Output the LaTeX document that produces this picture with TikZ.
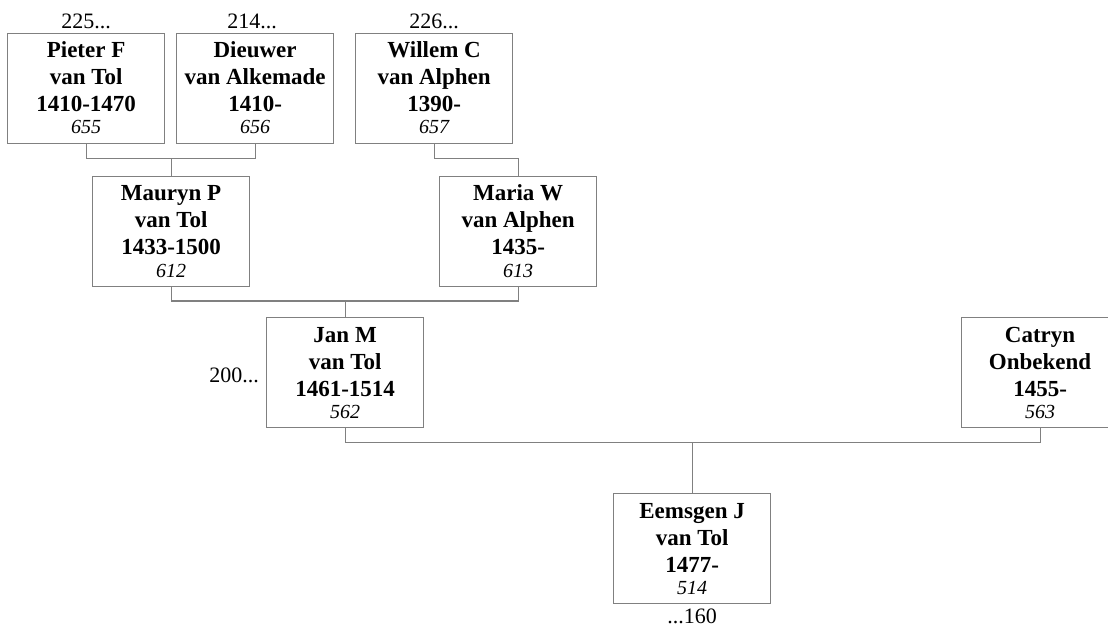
\documentclass[tikz,border=0pt]{standalone}
\usepackage{fontspec}
\setmainfont{Liberation Serif}
\definecolor{boxgray}{RGB}{128,128,128}
\newcommand\person[7]{%
  \node[pbox] (#1) at (#2,#3) {};
  \node[bt] at ([yshift=-25pt]#1.north) {#4};
  \node[bt] at ([yshift=-52pt]#1.north) {#5};
  \node[bt] at ([yshift=-79pt]#1.north) {#6};
  \node[it] at ([yshift=-101pt]#1.north) {#7};
}
\begin{document}
\begin{tikzpicture}[x=1pt,y=-1pt,
  pbox/.style={draw=boxgray, line width=1.2pt, minimum width=157pt, minimum height=110pt, inner sep=0pt, anchor=north west},
  bt/.style={anchor=base, inner sep=0pt, font=\fontsize{23}{27}\selectfont\bfseries},
  it/.style={anchor=base, inner sep=0pt, font=\fontsize{20}{24}\selectfont\itshape},
  rt/.style={inner sep=0pt, font=\fontsize{22}{26}\selectfont},
  link/.style={draw=boxgray, line width=1pt}]
\useasboundingbox (0,0) rectangle (1108,628);
\person{pieter}{7}{33}{Pieter F}{van Tol}{1410-1470}{655}
\person{dieuwer}{176}{33}{Dieuwer}{van Alkemade}{1410-}{656}
\person{willem}{355}{33}{Willem C}{van Alphen}{1390-}{657}
\person{mauryn}{92}{176}{Mauryn P}{van Tol}{1433-1500}{612}
\person{maria}{439}{176}{Maria W}{van Alphen}{1435-}{613}
\person{jan}{266}{317}{Jan M}{van Tol}{1461-1514}{562}
\person{catryn}{961}{317}{Catryn}{Onbekend}{1455-}{563}
\person{eemsgen}{613}{493}{Eemsgen J}{van Tol}{1477-}{514}
% extra labels
\node[rt, anchor=base] (l225) at (86,29) {225...};
\node[rt, anchor=base] (l214) at (252,29) {214...};
\node[rt, anchor=base] (l226) at (434,29) {226...};
\node[rt, anchor=base east] (l200) at (259,382) {200...};
\node[rt, anchor=base] (l160) at (692,623) {...160};
% connectors
\coordinate (b1) at (0,159);
\coordinate (b2) at (0,301);
\coordinate (b3) at (0,442);
\draw[link] (pieter.south) -- (pieter.south |- b1) -- (dieuwer.south |- b1) -- (dieuwer.south);
\draw[link] (mauryn.north) -- (mauryn.north |- b1);
\draw[link] (willem.south) -- (willem.south |- b1) -- (maria.north |- b1) -- (maria.north);
\draw[link] (mauryn.south) -- (mauryn.south |- b2) -- (maria.south |- b2) -- (maria.south);
\draw[link] (jan.north) -- (jan.north |- b2);
\draw[link] (jan.south) -- (jan.south |- b3) -- (catryn.south |- b3) -- (catryn.south);
\draw[link] (eemsgen.north) -- (eemsgen.north |- b3);
\end{tikzpicture}
\end{document}
